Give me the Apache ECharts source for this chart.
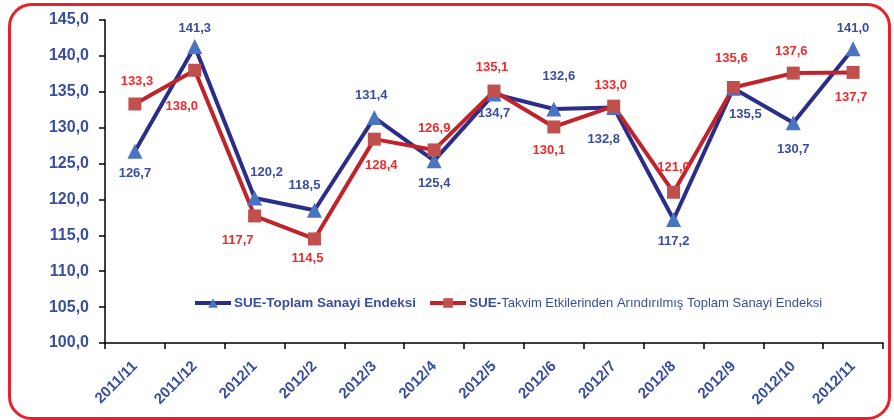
<!DOCTYPE html>
<html lang="tr">
<head>
    <meta charset="UTF-8">
    <title>SUE</title>
    <script src="https://cdn.jsdelivr.net/npm/echarts@6/dist/echarts.min.js"></script>
    <style>
        *{ padding:0; margin:0; }
        html,body{ width:894px; height:420px; background:#fff; }
        #main{ width:894px; height:420px; }
    </style>
</head>
<body>
<div id="main"></div>
<script>
    var months = ['2011/11','2011/12','2012/1','2012/2','2012/3','2012/4','2012/5','2012/6','2012/7','2012/8','2012/9','2012/10','2012/11'];
    var toplam = [126.7, 141.3, 120.2, 118.5, 131.4, 125.4, 134.7, 132.6, 132.8, 117.2, 135.5, 130.7, 141.0];
    var takvim = [133.3, 138.0, 117.7, 114.5, 128.4, 126.9, 135.1, 130.1, 133.0, 121.0, 135.6, 137.6, 137.7];
    var names = ['SUE-Toplam Sanayi Endeksi', 'SUE-Takvim Etkilerinden Arındırılmış Toplam Sanayi Endeksi'];

    // label offsets from the point centre
    var blueOff = [[0,22],[0,-18],[12,-26],[-10,-25],[-3,-22],[0,23],[0,19],[5,-33],[-10,32],[0,22],[12,26],[0,27],[0,-20]];
    var redOff = [[2,-23],[-13,36],[-17,24],[-7,19],[7,26],[0,-21],[-2,-24],[-5,23],[-3,-21],[0,-25],[-2,-29],[-2,-22],[-2,25]];

    var FONT = 'Arial, "Liberation Sans", sans-serif';
    var BLUE_TXT = '#3a4ea0';
    var RED_TXT = '#ee2b2f';

    function fmt(v){ return v.toFixed(1).replace('.', ','); }
    function items(vals, offs){
        return vals.map(function(v, i){
            return { value: v, label: { offset: offs[i] } };
        });
    }

    var myChart = echarts.init(document.getElementById('main'));
    var option = {
        backgroundColor: '#fff',
        animation: false,
        graphic: [{
            type: 'rect',
            shape: { x: 9.5, y: 4.5, width: 880, height: 414, r: 22 },
            style: { fill: 'none', stroke: '#e8202a', lineWidth: 3 },
            silent: true
        }],
        grid: { left: 105, right: 11, top: 20, bottom: 77 },
        legend: {
            left: 188,
            top: 291,
            itemWidth: 36,
            itemHeight: 12,
            itemGap: 12,
            data: names,
            lineStyle: { width: 4 },
            formatter: function(n){
                if (n === names[0]) return '{b|' + n + '}';
                return '{b|SUE-}{n|' + n.slice(4) + '}';
            },
            textStyle: {
                padding: [0, 0, 0, -2],
                rich: {
                    b: { fontFamily: FONT, fontWeight: 'bold', fontSize: 13.5, color: BLUE_TXT },
                    n: { fontFamily: FONT, fontSize: 13, color: BLUE_TXT }
                }
            }
        },
        xAxis: {
            type: 'category',
            data: months,
            boundaryGap: true,
            axisLine: { lineStyle: { color: '#000', width: 1.5 } },
            axisTick: { show: true, length: 6, lineStyle: { color: '#000', width: 1.5 } },
            axisLabel: {
                rotate: 45,
                margin: 21,
                fontFamily: FONT,
                fontWeight: 'bold',
                fontSize: 15,
                color: BLUE_TXT
            },
            splitLine: { show: false }
        },
        yAxis: {
            type: 'value',
            min: 100,
            max: 145,
            interval: 5,
            axisLine: { show: true, lineStyle: { color: '#000', width: 1.5 } },
            axisTick: { show: true, length: 6, lineStyle: { color: '#000', width: 1.5 } },
            splitLine: { show: false },
            axisLabel: {
                margin: 16,
                fontFamily: FONT,
                fontWeight: 'bold',
                fontSize: 16,
                color: BLUE_TXT,
                formatter: function(v){ return fmt(v); }
            }
        },
        series: [
            {
                name: names[0],
                type: 'line',
                data: items(toplam, blueOff),
                symbol: 'triangle',
                symbolSize: 15,
                itemStyle: { color: '#4a74c2' },
                lineStyle: { color: '#2b2e88', width: 4 },
                label: {
                    show: true,
                    position: 'inside',
                    fontFamily: FONT,
                    fontWeight: 'bold',
                    fontSize: 13,
                    color: BLUE_TXT,
                    formatter: function(p){ return fmt(p.value); }
                }
            },
            {
                name: names[1],
                type: 'line',
                data: items(takvim, redOff),
                symbol: 'rect',
                symbolSize: 13,
                itemStyle: { color: '#c0504d' },
                lineStyle: { color: '#c1232b', width: 4 },
                label: {
                    show: true,
                    position: 'inside',
                    fontFamily: FONT,
                    fontWeight: 'bold',
                    fontSize: 13,
                    color: RED_TXT,
                    formatter: function(p){ return fmt(p.value); }
                }
            }
        ]
    };
    myChart.setOption(option);
</script>
</body>
</html>
